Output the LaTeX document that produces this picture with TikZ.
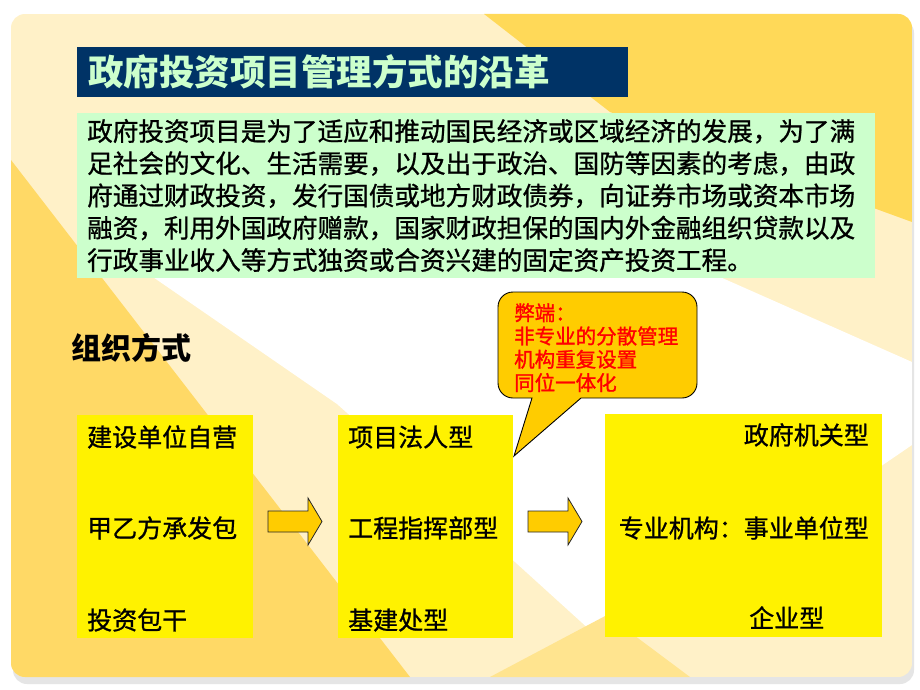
\documentclass[tikz,border=0pt]{standalone}
\usepackage{fontspec}
\setmainfont{Noto Sans CJK SC}
\newfontfamily\hei{Noto Sans CJK SC}[FakeBold=0.9]
\newfontfamily\heavy{Noto Sans CJK SC}[FakeBold=1.3]
\usepackage{tikz}

\definecolor{navy}{HTML}{003366}
\definecolor{mint}{HTML}{CCFFCC}
\definecolor{gold}{HTML}{FFCC00}
\definecolor{cream}{HTML}{FFF1C8}
\definecolor{wheat}{HTML}{FFD966}
\definecolor{sun}{HTML}{FFD958}
\definecolor{pale}{HTML}{FFE48F}

\begin{document}
\begin{tikzpicture}
[x=1pt,y=-1pt,
 ybox/.style={fill=yellow,inner sep=0pt,minimum height=223pt},
 txt/.style={anchor=base west,inner sep=0pt,font=\hei\fontsize{25}{30}\selectfont},
 flaw/.style={anchor=base west,inner sep=0pt,text=red,font=\heavy\fontsize{20.5}{24}\selectfont},
 blockarrow/.style={fill=gold,draw=black!85,line width=0.8pt},
 callout/.style={fill=gold,draw=black,line width=0.9pt}]
\useasboundingbox (0,0) rectangle (920,690);
\fill[white] (0,0) rectangle (920,690);

% slide background
\fill[black!10,rounded corners=14pt] (13,19) rectangle (914,684);
\begin{scope}
\clip[rounded corners=14pt] (11,14) rectangle (912,677);
\fill[cream] (11,14) rectangle (912,677);
\fill[white] (150,275) -- (720,277) -- (912,362) -- (912,445) -- (612,650) -- (515,562) -- (337,404) -- cycle;
\fill[wheat] (11,160) -- (410,677) -- (11,677) -- cycle;
\fill[sun] (484,14) -- (912,14) -- (912,222) -- (610,112) -- cycle;
\fill[pale] (490,677) -- (607,615) -- (690,677) -- cycle;
\end{scope}

\node[fill=navy,anchor=west,inner xsep=11pt,text width=529pt,minimum height=50pt,align=left,text=mint,font=\bfseries\fontsize{35.5}{40}\selectfont] (title) at (77,72) {政府投资项目管理方式的沿革};

\node[fill=mint,anchor=west,inner xsep=10pt,text width=778pt,minimum height=165pt,align=left,font=\hei\fontsize{25.6}{32.25}\selectfont] (intro) at (77,195.5) {政府投资项目是为了适应和推动国民经济或区域经济的发展，为了满\\足社会的文化、生活需要，以及出于政治、国防等因素的考虑，由政\\府通过财政投资，发行国债或地方财政债券，向证券市场或资本市场\\融资，利用外国政府赠款，国家财政担保的国内外金融组织贷款以及\\行政事业收入等方式独资或合资兴建的固定资产投资工程。};

\node[anchor=base west,inner sep=0pt,font=\bfseries\fontsize{30}{36}\selectfont] (org) at (71,359.5) {组织方式};

\node[ybox,minimum width=176pt] (b1) at (165,526) {};
\node[ybox,minimum width=175pt] (b2) at (425.5,526) {};
\node[ybox,minimum width=277pt] (b3) at (743.5,525) {};

\node[txt] (s1) at (87,446.5) {建设单位自营};
\node[txt] (s2) at (87,537.5) {甲乙方承发包};
\node[txt] (s3) at (87,629.5) {投资包干};
\node[txt] (p1) at (348,446.5) {项目法人型};
\node[txt] (p2) at (348,537.5) {工程指挥部型};
\node[txt] (p3) at (348,629.5) {基建处型};
\node[txt,anchor=base east] (g1) at (869,444.5) {政府机关型};
\node[txt,anchor=base east] (g2) at (869,537.5) {专业机构：事业单位型};
\node[txt] (g3) at (749,627.5) {企业型};

\foreach \ax in {268,528}
\draw[blockarrow] (\ax,511) -- (\ax+40,511) -- (\ax+40,498) -- (\ax+54,521.5) -- (\ax+40,545) -- (\ax+40,532) -- (\ax,532) -- cycle;

% callout with tail down to b2
\draw[callout] (514,456) -- (581,398) [rounded corners=15pt] -- (697,398) -- (697,292) -- (498,292) -- (498,398) [sharp corners] -- (532,398) -- cycle;
\foreach \line [count=\i] in {弊端：,非专业的分散管理,机构重复设置,同位一体化}
\node[flaw] (f\i) at (514,320.5+23.3*\i-23.3) {\line};
\end{tikzpicture}
\end{document}
